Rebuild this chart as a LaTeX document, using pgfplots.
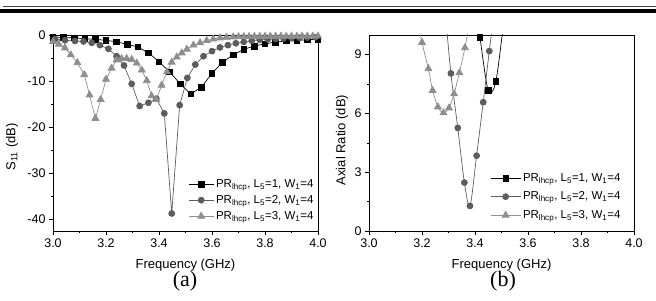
\documentclass[border=0pt]{standalone}
\usepackage{pgfplots}
\pgfplotsset{compat=1.18}
\usepackage{fontspec}
\setmainfont{Liberation Sans}
\newfontfamily\seriffont{Liberation Serif}

\definecolor{circcol}{HTML}{5C5C5C}
\definecolor{tricol}{HTML}{8E8E8E}

\pgfplotsset{
  panel/.style={
    scale only axis, width=265pt, height=196pt,
    xmin=3, xmax=4, xtick={3,3.2,3.4,3.6,3.8,4.0}, minor x tick num=1,
    minor y tick num=1,
    tick align=outside, xtick pos=bottom, ytick pos=left,
    major tick length=4pt, minor tick length=2.2pt,
    tick style={black, line width=0.5pt},
    axis line style={line width=0.6pt},
    /pgf/number format/assume math mode=true,
    ticklabel style={font=\fontsize{12.5}{14}\selectfont},
    xticklabel style={/pgf/number format/fixed, /pgf/number format/fixed zerofill, /pgf/number format/precision=1},
    label style={font=\fontsize{13}{15}\selectfont},
    xlabel={Frequency (GHz)},
    xlabel style={at={(axis description cs:0.5,-0.173)}, anchor=center},
    legend style={draw=none, fill=none, font=\fontsize{11.5}{13}\selectfont,
      inner sep=0pt, cells={anchor=west}},
    legend cell align=left,
  },
  sq/.style={black, mark=square*, mark size=2.8pt, line width=0.7pt},
  ci/.style={circcol, mark=*, mark size=3pt, line width=0.7pt},
  tr/.style={tricol, mark=triangle*, mark size=4pt, line width=0.7pt},
}

\begin{document}
\begin{tikzpicture}
\useasboundingbox (0,0) rectangle (656pt,300pt);

% page header rules
\draw[line width=1pt, black!75] (3pt,293.5pt) -- (656pt,293.5pt);
\fill[black] (0pt,287pt) rectangle (656pt,291.2pt);

% (a) return loss
\begin{axis}[panel, at={(53pt,69pt)}, anchor=south west,
  ymin=-42.5, ymax=0, ytick={-40,-30,-20,-10,0},
  ylabel={S\textsubscript{11} (dB)},
  ylabel style={at={(axis description cs:-0.155,0.43)}, anchor=center},
  legend image code/.code={\draw[mark repeat=2, mark phase=2] plot coordinates {(0pt,0pt) (12.5pt,0pt) (25pt,0pt)};},
  legend style={at={(axis description cs:0.51,0.04)}, anchor=south west, row sep=2.5pt},
]
\addplot[sq] coordinates {
 (3.00,-0.45) (3.04,-0.55) (3.08,-0.6) (3.12,-0.8) (3.16,-0.95) (3.20,-1.15)
 (3.24,-1.5) (3.28,-2.0) (3.32,-2.6) (3.36,-3.85) (3.40,-5.8) (3.44,-8.0)
 (3.48,-10.6) (3.52,-12.8) (3.56,-11.3) (3.60,-8.3) (3.64,-5.9) (3.68,-4.3)
 (3.72,-3.1) (3.76,-2.4) (3.80,-1.9) (3.84,-1.55) (3.88,-1.3) (3.92,-1.2)
 (3.96,-1.0) (4.00,-0.95)
};
\addlegendentry{PR\textsubscript{lhcp}, L\textsubscript{5}=1, W\textsubscript{1}=4}
\addplot[ci] coordinates {
 (3.008,-0.9) (3.045,-1.15) (3.083,-1.3) (3.115,-1.4) (3.146,-1.7) (3.177,-2.2)
 (3.209,-3.0) (3.240,-4.6) (3.268,-6.6) (3.297,-10.6) (3.327,-15.4) (3.360,-14.7)
 (3.390,-13.8) (3.420,-17.0) (3.448,-38.7) (3.478,-15.2) (3.507,-9.3) (3.537,-6.4)
 (3.568,-4.6) (3.600,-3.5) (3.630,-2.7) (3.660,-2.2) (3.690,-1.8) (3.720,-1.5)
 (3.750,-1.25) (3.780,-1.05) (3.810,-0.95) (3.840,-0.85) (3.870,-0.75) (3.900,-0.7)
 (3.930,-0.6) (3.960,-0.55) (3.990,-0.5)
};
\addlegendentry{PR\textsubscript{lhcp}, L\textsubscript{5}=2, W\textsubscript{1}=4}
\addplot[tr] coordinates {
 (3.000,-1.4) (3.022,-2.0) (3.045,-2.8) (3.067,-4.3) (3.092,-6.0) (3.118,-8.6)
 (3.138,-13.0) (3.160,-18.1) (3.180,-14.0) (3.200,-9.6) (3.221,-7.2) (3.240,-5.4)
 (3.259,-5.1) (3.278,-5.1) (3.297,-5.3) (3.316,-6.1) (3.335,-7.6) (3.354,-9.9)
 (3.372,-13.2) (3.390,-14.0) (3.410,-10.9) (3.430,-8.0) (3.448,-5.9) (3.467,-4.8)
 (3.486,-3.9) (3.505,-3.1) (3.530,-2.2) (3.555,-1.7) (3.580,-1.2) (3.605,-0.9)
 (3.630,-0.65) (3.655,-0.5) (3.680,-0.42) (3.700,-0.38) (3.720,-0.35) (3.740,-0.33)
 (3.760,-0.32) (3.780,-0.3) (3.800,-0.3) (3.820,-0.28) (3.840,-0.28) (3.860,-0.27)
 (3.880,-0.27) (3.900,-0.26) (3.920,-0.26) (3.940,-0.25) (3.960,-0.25) (3.980,-0.25)
 (4.000,-0.25)
};
\addlegendentry{PR\textsubscript{lhcp}, L\textsubscript{5}=3, W\textsubscript{1}=4}
\end{axis}

% (b) axial ratio
\begin{axis}[panel, at={(369pt,69pt)}, anchor=south west,
  ymin=0, ymax=10, ytick={0,3,6,9},
  ylabel={Axial Ratio (dB)},
  ylabel style={at={(axis description cs:-0.102,0.464)}, anchor=center},
  legend image code/.code={\draw[mark repeat=2, mark phase=2] plot coordinates {(0pt,0pt) (15pt,0pt) (30pt,0pt)};},
  legend style={at={(axis description cs:0.457,0.045)}, anchor=south west, row sep=5pt},
]
\addplot[sq, smooth] coordinates {
 (3.390,13.0) (3.419,9.87) (3.450,7.17) (3.479,7.65) (3.510,10.9)
};
\addlegendentry{PR\textsubscript{lhcp}, L\textsubscript{5}=1, W\textsubscript{1}=4}
\addplot[ci, smooth] coordinates {
 (3.285,11.6) (3.309,8.04) (3.335,5.26) (3.360,2.47) (3.381,1.28) (3.406,3.84)
 (3.431,6.57) (3.454,9.18) (3.478,11.8)
};
\addlegendentry{PR\textsubscript{lhcp}, L\textsubscript{5}=2, W\textsubscript{1}=4}
\addplot[tr, smooth] coordinates {
 (3.180,11.0) (3.200,9.62) (3.224,8.28) (3.240,7.17) (3.260,6.33) (3.281,6.03)
 (3.302,6.28) (3.321,7.0) (3.341,8.07) (3.362,9.35) (3.380,10.6)
};
\addlegendentry{PR\textsubscript{lhcp}, L\textsubscript{5}=3, W\textsubscript{1}=4}
\end{axis}

\node[font=\seriffont\fontsize{22}{24}\selectfont] at (185pt,19pt) {(a)};
\node[font=\seriffont\fontsize{22}{24}\selectfont] at (503pt,19pt) {(b)};
\end{tikzpicture}
\end{document}
